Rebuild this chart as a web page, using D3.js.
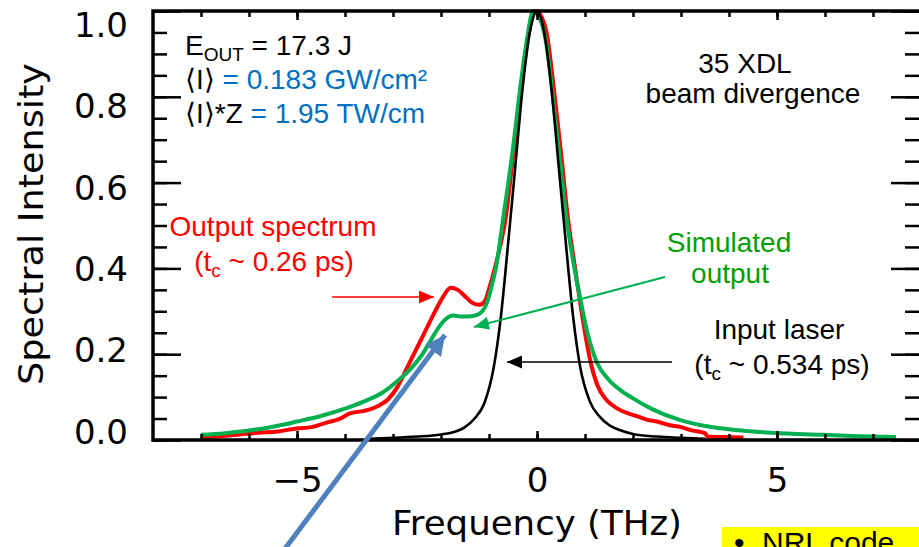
<!DOCTYPE html>
<html>
<head>
<meta charset="utf-8">
<script src="https://cdn.jsdelivr.net/npm/d3@7"></script>
<style>
  body { margin: 0; background: #fff; }
  svg { display: block; }
</style>
</head>
<body>
<svg id="chart" width="919" height="547"></svg>
<script>
// values (frequency in THz, normalised intensity)
var freqInput = [-3.5, -3.0, -2.5, -2.0, -1.75, -1.5, -1.3, -1.1, -0.9, -0.75, -0.6, -0.45, -0.3, -0.15, 0,
                 0.15, 0.3, 0.45, 0.6, 0.75, 0.9, 1.1, 1.3, 1.5, 1.75, 2.0, 2.5, 3.0, 3.5];
var inputLaser = [0.003, 0.005, 0.008, 0.013, 0.018, 0.03, 0.05, 0.085, 0.17, 0.29, 0.46, 0.64, 0.82, 0.95, 1.0,
                  0.95, 0.82, 0.64, 0.46, 0.29, 0.17, 0.09, 0.055, 0.035, 0.022, 0.014, 0.008, 0.005, 0.003];

var freqOutput = [-7.0, -6.6, -6.2, -5.8, -5.4, -5.0, -4.7, -4.4, -4.1, -3.9, -3.6, -3.3, -3.1, -2.9, -2.7, -2.5,
                  -2.3, -2.1, -1.95, -1.8, -1.65, -1.5, -1.35, -1.2, -1.08, -0.98, -0.88, -0.77, -0.65, -0.5,
                  -0.35, -0.2, -0.08, 0, 0.1, 0.2, 0.35, 0.5, 0.63, 0.78, 0.9, 1.0, 1.1, 1.25, 1.45, 1.65, 1.87,
                  2.1, 2.3, 2.5, 2.75, 3.0, 3.2, 3.5, 3.55, 3.9, 4.3];
var outputSpectrum = [0.007, 0.009, 0.013, 0.017, 0.02, 0.027, 0.03, 0.04, 0.05, 0.062, 0.068, 0.08, 0.095, 0.125, 0.17, 0.215,
                      0.26, 0.305, 0.335, 0.355, 0.35, 0.335, 0.32, 0.315, 0.325, 0.36, 0.40, 0.45, 0.52, 0.66,
                      0.80, 0.93, 0.99, 1.0, 0.985, 0.95, 0.82, 0.67, 0.53, 0.41, 0.32, 0.25, 0.19, 0.13, 0.093, 0.075, 0.063,
                      0.055, 0.047, 0.043, 0.035, 0.03, 0.023, 0.016, 0.008, 0.007, 0.006];

var freqSim = [-7.0, -6.5, -6.0, -5.5, -5.0, -4.5, -4.0, -3.6, -3.2, -2.9, -2.6, -2.4, -2.2, -2.05, -1.9, -1.75,
               -1.6, -1.45, -1.3, -1.18, -1.08, -1.0, -0.92, -0.85, -0.7, -0.5, -0.35, -0.2, -0.08, 0.05, 0.2,
               0.35, 0.5, 0.6, 0.75, 0.9, 1.05, 1.25, 1.5, 1.73, 2.0, 2.4, 2.97, 3.2, 3.6, 4.0, 4.57, 5.2, 5.95, 6.7, 7.48];
var simulatedOutput = [0.012, 0.016, 0.022, 0.031, 0.043, 0.056, 0.073, 0.09, 0.112, 0.138, 0.17, 0.198, 0.235, 0.262, 0.282, 0.29,
                       0.288, 0.288, 0.29, 0.296, 0.31, 0.335, 0.37, 0.405, 0.52, 0.68, 0.82, 0.94, 1.0, 0.985, 0.92,
                       0.78, 0.63, 0.53, 0.42, 0.33, 0.25, 0.18, 0.14, 0.117, 0.097, 0.072, 0.047, 0.04, 0.031, 0.025, 0.019, 0.015, 0.012, 0.009, 0.007];

var xTickLabels = [-5, 0, 5];
var yTickLabels = [0.0, 0.2, 0.4, 0.6, 0.8, 1.0];

var svg = d3.select("#chart");
var axisFont = "'DejaVu Sans', sans-serif";
var noteFont = "'Liberation Sans', Arial, sans-serif";

var x = d3.scaleLinear().domain([-8, 8]).range([153, 921]);
var y = d3.scaleLinear().domain([0, 1]).range([440, 11]);
// tick labels on the slide sit a little off the tick marks
var yLab = d3.scaleLinear().domain([0, 1]).range([431, 24]);

function zip(xs, ys) { return xs.map(function(f, i) { return [f, ys[i]]; }); }

var line = d3.line()
    .x(function(d) { return x(d[0]); })
    .y(function(d) { return y(d[1]); })
    .curve(d3.curveMonotoneX);

// curves
svg.append("path").datum(zip(freqOutput, outputSpectrum))
    .attr("d", line).attr("fill", "none").attr("stroke", "#ff0000").attr("stroke-width", 4).attr("stroke-linejoin", "round");
svg.append("path").datum(zip(freqSim, simulatedOutput))
    .attr("d", line).attr("fill", "none").attr("stroke", "#00b050").attr("stroke-width", 4).attr("stroke-linejoin", "round");
svg.append("path").datum(zip(freqInput, inputLaser))
    .attr("d", line).attr("fill", "none").attr("stroke", "#000").attr("stroke-width", 2.6).attr("stroke-linejoin", "round");

// ticks, all pointing into the frame
function ticks(axis, tx, ty) {
    var g = svg.append("g").attr("transform", "translate(" + tx + "," + ty + ")").call(axis);
    g.select(".domain").remove();
    g.selectAll("text").remove();
    g.selectAll("line").attr("stroke", "#000").attr("stroke-width", 2.5);
}
var xMinor = d3.range(-7, 8);
ticks(d3.axisBottom(x).tickValues(xMinor).tickSize(-6), 0, 440);
ticks(d3.axisBottom(x).tickValues(xTickLabels).tickSize(-9), 0, 440);
ticks(d3.axisTop(x).tickValues(xMinor).tickSize(-6), 0, 11);
ticks(d3.axisTop(x).tickValues(xTickLabels).tickSize(-9), 0, 11);
var yMinor = d3.range(0, 1.001, 0.05);
ticks(d3.axisLeft(y).tickValues(yMinor).tickSize(-14), 153, 0);
ticks(d3.axisLeft(y).tickValues(yTickLabels).tickSize(-28), 153, 0);
ticks(d3.axisRight(y).tickValues(yMinor).tickSize(-14), 919, 0);
ticks(d3.axisRight(y).tickValues(yTickLabels).tickSize(-28), 919, 0);

// frame
svg.append("rect").attr("x", 153).attr("y", 11).attr("width", 919 - 153 + 2).attr("height", 440 - 11)
    .attr("fill", "none").attr("stroke", "#000").attr("stroke-width", 3.5);

// tick labels
var xl = svg.append("g").attr("transform", "translate(0,492)")
    .call(d3.axisBottom(x).tickValues(xTickLabels).tickSize(0).tickPadding(0));
xl.select(".domain").remove();
xl.selectAll("text").attr("dy", 0).attr("font-family", axisFont).attr("font-size", 34).attr("fill", "#000");

var yl = svg.append("g").attr("transform", "translate(128,0)")
    .call(d3.axisLeft(yLab).tickValues(yTickLabels).tickFormat(d3.format(".1f")).tickSize(0).tickPadding(0));
yl.select(".domain").remove();
yl.selectAll("text").attr("dy", "0.36em").attr("font-family", axisFont).attr("font-size", 34).attr("fill", "#000");

// axis titles
svg.append("text").attr("x", 537).attr("y", 535).attr("text-anchor", "middle")
    .attr("font-family", axisFont).attr("font-size", 33).attr("textLength", 290).attr("lengthAdjust", "spacingAndGlyphs")
    .text("Frequency (THz)");
svg.append("text").attr("transform", "translate(43,224) rotate(-90)").attr("text-anchor", "middle")
    .attr("font-family", axisFont).attr("font-size", 33).attr("textLength", 322).attr("lengthAdjust", "spacingAndGlyphs")
    .text("Spectral Intensity");

// annotations
var blue = "#0070c0";
var t1 = svg.append("text").attr("x", 185).attr("y", 55).attr("font-family", noteFont).attr("font-size", 28);
t1.append("tspan").text("E");
t1.append("tspan").attr("font-size", 19).attr("dy", 6).text("OUT");
t1.append("tspan").attr("dy", -6).text(" = 17.3 J");

var t2 = svg.append("text").attr("x", 185).attr("y", 89).attr("font-family", noteFont).attr("font-size", 28);
t2.append("tspan").text("\u27E8I\u27E9");
t2.append("tspan").attr("fill", blue).text(" = 0.183 GW/cm\u00B2");

var t3 = svg.append("text").attr("x", 185).attr("y", 123).attr("font-family", noteFont).attr("font-size", 28);
t3.append("tspan").text("\u27E8I\u27E9*Z");
t3.append("tspan").attr("fill", blue).text(" = 1.95 TW/cm");

svg.append("text").attr("x", 745).attr("y", 73).attr("text-anchor", "middle")
    .attr("font-family", noteFont).attr("font-size", 28).text("35 XDL");
svg.append("text").attr("x", 753).attr("y", 103).attr("text-anchor", "middle")
    .attr("font-family", noteFont).attr("font-size", 28).text("beam divergence");

svg.append("text").attr("x", 273).attr("y", 236).attr("text-anchor", "middle")
    .attr("font-family", noteFont).attr("font-size", 28).attr("fill", "#ff0000").text("Output spectrum");
var t4 = svg.append("text").attr("x", 274).attr("y", 271).attr("text-anchor", "middle")
    .attr("font-family", noteFont).attr("font-size", 28).attr("fill", "#ff0000");
t4.append("tspan").text("(t");
t4.append("tspan").attr("font-size", 19).attr("dy", 6).text("c");
t4.append("tspan").attr("dy", -6).text(" ~ 0.26 ps)");

svg.append("text").attr("x", 729).attr("y", 252).attr("text-anchor", "middle")
    .attr("font-family", noteFont).attr("font-size", 28).attr("fill", "#00a000").text("Simulated");
svg.append("text").attr("x", 730).attr("y", 283).attr("text-anchor", "middle")
    .attr("font-family", noteFont).attr("font-size", 28).attr("fill", "#00a000").text("output");

svg.append("text").attr("x", 779).attr("y", 339).attr("text-anchor", "middle")
    .attr("font-family", noteFont).attr("font-size", 28).text("Input laser");
var t5 = svg.append("text").attr("x", 782).attr("y", 374).attr("text-anchor", "middle")
    .attr("font-family", noteFont).attr("font-size", 28);
t5.append("tspan").text("(t");
t5.append("tspan").attr("font-size", 19).attr("dy", 6).text("c");
t5.append("tspan").attr("dy", -6).text(" ~ 0.534 ps)");

// arrows
var defs = svg.append("defs");
function marker(id, color, w, h) {
    defs.append("marker").attr("id", id).attr("markerUnits", "userSpaceOnUse")
        .attr("viewBox", "0 0 " + w + " " + h).attr("refX", w).attr("refY", h / 2)
        .attr("markerWidth", w).attr("markerHeight", h).attr("orient", "auto")
        .append("path").attr("d", "M0,0L" + w + "," + (h / 2) + "L0," + h + "Z").attr("fill", color);
}
marker("headRed", "#ff0000", 15, 13);
marker("headGreen", "#00b050", 15, 13);
marker("headBlack", "#000", 15, 13);
marker("headBlue", "#4f81bd", 20, 20);

function arrow(x1, y1, x2, y2, color, w, head) {
    svg.append("line").attr("x1", x1).attr("y1", y1).attr("x2", x2).attr("y2", y2)
        .attr("stroke", color).attr("stroke-width", w).attr("marker-end", "url(#" + head + ")");
}
arrow(332, 297, 434, 297, "#ff0000", 1.6, "headRed");
arrow(665, 277, 474, 327, "#00b050", 2, "headGreen");
arrow(672, 362, 507, 362, "#000", 1.6, "headBlack");
arrow(284, 550, 445, 335, "#4f81bd", 5, "headBlue");

// yellow note box, cut off by the slide edge
svg.append("rect").attr("x", 722).attr("y", 527).attr("width", 200).attr("height", 22).attr("fill", "#ffff00");
var t6 = svg.append("text").attr("y", 553).attr("font-family", noteFont).attr("font-size", 30);
t6.append("tspan").attr("x", 734).text("\u2022");
t6.append("tspan").attr("x", 762).text("NRL code");
</script>
</body>
</html>
